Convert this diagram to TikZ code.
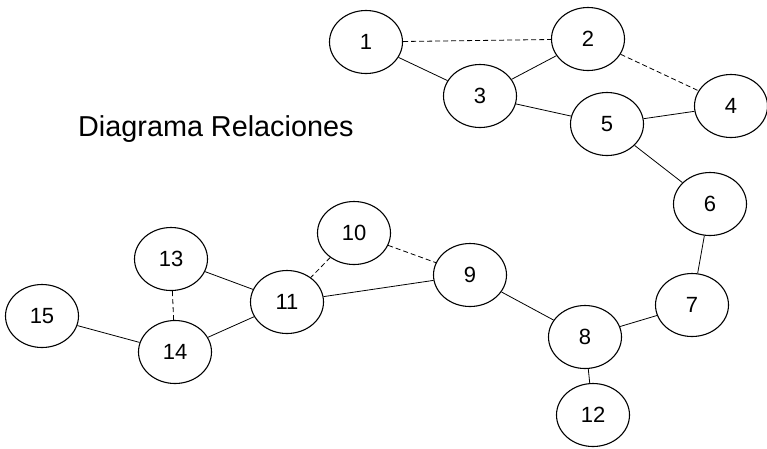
\documentclass[tikz,border=0pt]{standalone}
\usepackage{fontspec}
\setmainfont{Liberation Sans}
\usetikzlibrary{shapes.geometric}
\begin{document}
\begin{tikzpicture}[x=1pt,y=-1pt,
  nd/.style={ellipse,draw,line width=1.1pt,minimum width=73pt,minimum height=63pt,inner sep=0pt,font=\fontsize{22}{24}\selectfont},
  ln/.style={line width=0.8pt},
  dl/.style={line width=0.8pt,dash pattern=on 5pt off 3pt}]
\useasboundingbox (0,0) rectangle (767,448);
\node[nd] (n1) at (366,42) {1};
\node[nd] (n2) at (588,39) {2};
\node[nd] (n3) at (480,96) {3};
\node[nd] (n4) at (731,106) {4};
\node[nd] (n5) at (607,124) {5};
\node[nd] (n6) at (710,204) {6};
\node[nd] (n7) at (692,305) {7};
\node[nd] (n8) at (585,337) {8};
\node[nd] (n9) at (470,275) {9};
\node[nd] (n10) at (354,233) {10};
\node[nd] (n11) at (287,302) {11};
\node[nd] (n12) at (593,415) {12};
\node[nd] (n13) at (171,259) {13};
\node[nd] (n14) at (175,352) {14};
\node[nd] (n15) at (42,316) {15};
\node[anchor=base west,inner sep=0pt,font=\fontsize{28.8}{30}\selectfont] (t) at (78,136) {Diagrama Relaciones};
\draw[dl] (n1) -- (n2);
\draw[ln] (n1) -- (n3);
\draw[ln] (n2) -- (n3);
\draw[dl] (n2) -- (n4);
\draw[ln] (n3) -- (n5);
\draw[ln] (n5) -- (n4);
\draw[ln] (n5) -- (n6);
\draw[ln] (n6) -- (n7);
\draw[ln] (n7) -- (n8);
\draw[ln] (n8) -- (n12);
\draw[ln] (n9) -- (n8);
\draw[dl] (n10) -- (n9);
\draw[dl] (n10) -- (n11);
\draw[ln] (n11) -- (n9);
\draw[ln] (n13) -- (n11);
\draw[dl] (n13) -- (n14);
\draw[ln] (n14) -- (n11);
\draw[ln] (n15) -- (n14);
\end{tikzpicture}
\end{document}
